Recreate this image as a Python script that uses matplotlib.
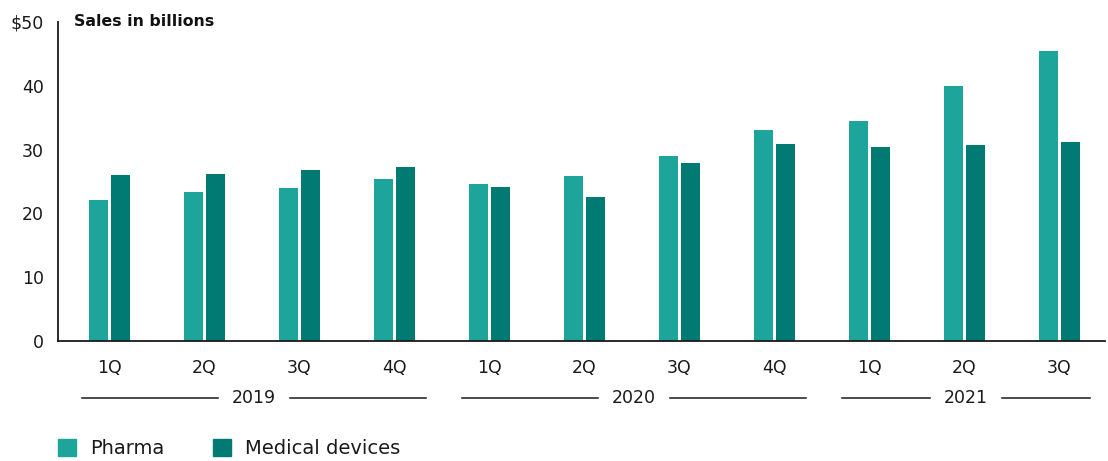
import numpy as np
import matplotlib.pyplot as plt
from matplotlib.patches import Patch

plt.rcParams['font.family'] = ['DejaVu Sans']

quarters = ["1Q", "2Q", "3Q", "4Q", "1Q", "2Q", "3Q", "4Q", "1Q", "2Q", "3Q"]
years = ["2019", "2020", "2021"]
year_groups = [(0, 3), (4, 7), (8, 10)]
pharma = [22.1, 23.4, 24.0, 25.4, 24.6, 25.9, 29.0, 33.1, 34.5, 40.0, 45.5]
devices = [26.0, 26.2, 26.8, 27.3, 24.1, 22.6, 27.9, 30.9, 30.4, 30.7, 31.2]
yticks = [0, 10, 20, 30, 40, 50]
ytick_labels = ["0", "10", "20", "30", "40", "$50"]

c_pharma = "#1DA59C"
c_devices = "#007A73"
txt = "#1a1a1a"

fig = plt.figure(figsize=(11.08, 4.61), dpi=100)
ax = fig.add_axes([58 / 1108, 1 - 341 / 461, (1105 - 58) / 1108, (341 - 22) / 461])

x = np.arange(len(quarters))
w = 0.2
off = 0.116
ax.bar(x - off, pharma, width=w, color=c_pharma, label="Pharma")
ax.bar(x + off, devices, width=w, color=c_devices, label="Medical devices")

ax.set_xlim(-0.542, 10.484)
ax.set_ylim(0, 50)
ax.set_yticks(yticks)
ax.set_yticklabels(ytick_labels)
ax.set_xticks(x)
ax.set_xticklabels(quarters)
ax.tick_params(axis="y", length=0, pad=10, labelsize=12.5, colors=txt)
ax.tick_params(axis="x", length=0, pad=13, labelsize=12.5, colors=txt)
for s in ["top", "right"]:
    ax.spines[s].set_visible(False)
for s in ["left", "bottom"]:
    ax.spines[s].set_linewidth(1.3)
    ax.spines[s].set_color(txt)

fig.text(74 / 1108, 1 - 21 / 461, "Sales in billions",
         fontsize=11.3, fontweight="bold", va="center", ha="left", color="#111111")

# year labels with rules underneath the quarters
ty = -0.179
trans = ax.get_xaxis_transform()
gap = 0.38
for yr, (a, b) in zip(years, year_groups):
    lo, hi = a - 0.29, b + 0.33
    mid = (lo + hi) / 2
    ax.plot([lo, mid - gap], [ty, ty], transform=trans, color=txt, lw=1.1, clip_on=False)
    ax.plot([mid + gap, hi], [ty, ty], transform=trans, color=txt, lw=1.1, clip_on=False)
    ax.text(mid, ty, yr, transform=trans, ha="center", va="center", fontsize=12.5, color=txt)

handles = [Patch(color=c_pharma, label="Pharma"), Patch(color=c_devices, label="Medical devices")]
fig.legend(handles=handles, loc="lower left", bbox_to_anchor=(58 / 1108, 3 / 461), ncol=2,
           frameon=False, fontsize=14, handlelength=0.93, handleheight=0.93,
           handletextpad=0.72, columnspacing=2.5, borderpad=0, borderaxespad=0,
           labelcolor=txt)

fig.savefig("out.png", dpi=100)
